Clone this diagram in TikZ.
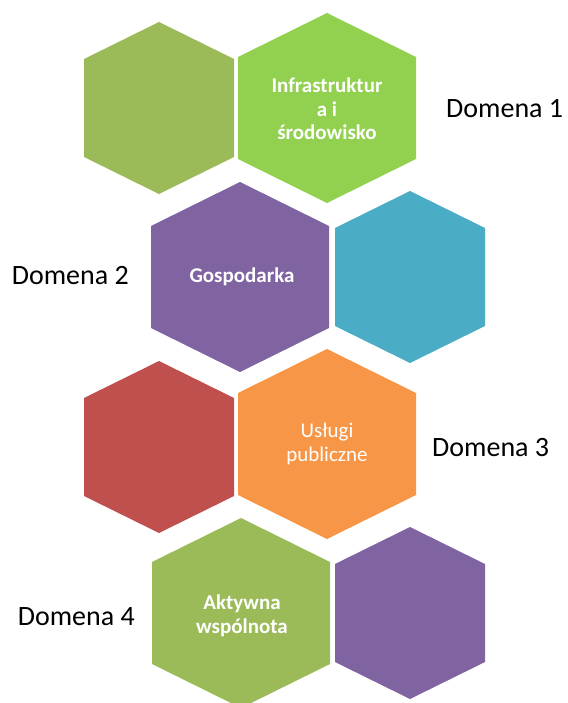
\documentclass[tikz,border=0pt]{standalone}
\usepackage{fontspec}
\setmainfont{Carlito}
\usetikzlibrary{positioning}

\definecolor{hexolive}{HTML}{9BBB59}
\definecolor{hexlime}{HTML}{92D050}
\definecolor{hexpurple}{HTML}{8064A2}
\definecolor{hexteal}{HTML}{4BACC6}
\definecolor{hexred}{HTML}{C0504D}
\definecolor{hexorange}{HTML}{F79646}

% hexagons: colour, centre x, centre y
\newcommand{\bighex}[3]{\fill[#1] (#2-89,#3-51) -- (#2,#3-95) -- (#2+89,#3-51) -- (#2+89,#3+51) -- (#2,#3+95) -- (#2-89,#3+51) -- cycle;}
\newcommand{\smallhex}[3]{\fill[#1] (#2-75,#3-49) -- (#2,#3-86) -- (#2+75,#3-49) -- (#2+75,#3+49) -- (#2,#3+86) -- (#2-75,#3+49) -- cycle;}

\begin{document}
\begin{tikzpicture}[
    x=1pt, y=-1pt,
    hextext/.style={text=white, align=center, font=\fontsize{21}{23.5}\selectfont},
    hexbold/.style={hextext, font=\fontsize{21}{23.5}\selectfont\bfseries},
    domlabel/.style={text=black, inner sep=0pt, font=\fontsize{28}{32}\selectfont}
]
\useasboundingbox (0,0) rectangle (567,703);

% row 1
\smallhex{hexolive}{159}{108}
\bighex{hexlime}{327}{108}
% row 2
\bighex{hexpurple}{240}{277}
\smallhex{hexteal}{410}{277}
% row 3
\smallhex{hexred}{159}{447}
\bighex{hexorange}{327}{444}
% row 4
\bighex{hexolive}{241}{613}
\smallhex{hexpurple}{410}{613}

\node[hexbold] (infra) at (327,109) {Infrastruktur\\a i\\środowisko};
\node[hexbold] (gosp) at (242,277) {Gospodarka};
\node[hextext] (uslugi) at (327,444) {Usługi\\publiczne};
\node[hexbold] (aktyw) at (242,616) {Aktywna\\wspólnota};

\node[domlabel, anchor=west] (dom1) at (446,109) {Domena 1};
\node[domlabel, anchor=east] (dom2) at (129,276) {Domena 2};
\node[domlabel, anchor=west] (dom3) at (432,448) {Domena 3};
\node[domlabel, anchor=east] (dom4) at (135,617) {Domena 4};
\end{tikzpicture}
\end{document}
